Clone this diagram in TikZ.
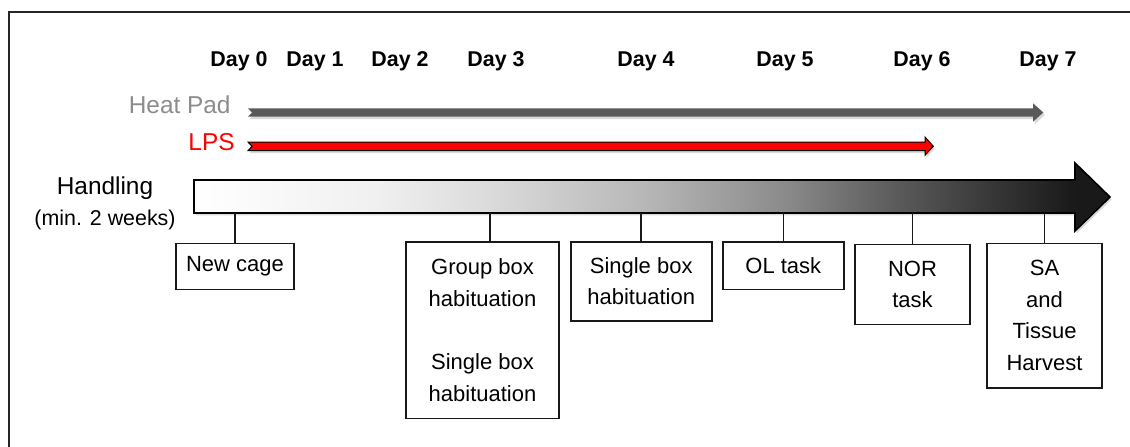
\documentclass[tikz,border=0pt]{standalone}
\usepackage{fontspec}
\setmainfont{Liberation Sans}
\usepackage{tikz}
\usetikzlibrary{shadows}
\usepackage{xcolor}

\definecolor{padgray}{HTML}{595959}
\definecolor{labelgray}{HTML}{8C8C8C}
\definecolor{lpsred}{HTML}{FF0000}

% light on the left, dark towards the arrow tip
\pgfdeclarehorizontalshading{handlingshade}{100bp}{color(0bp)=(white); color(25bp)=(white); color(35bp)=(black!6); color(41bp)=(black!14); color(49.5bp)=(black!28); color(57bp)=(black!45); color(63.5bp)=(black!65); color(73bp)=(black!90); color(100bp)=(black!90)}

\begin{document}
\begin{tikzpicture}[x=0.5pt, y=-0.5pt,
    daylabel/.style={font=\fontsize{10.7}{13}\selectfont\bfseries, anchor=base},
    sidelabel/.style={font=\fontsize{12.2}{14}\selectfont, inner sep=0pt},
    stepbox/.style={draw=black!90, line width=0.8pt, align=center, inner sep=0pt,
        font=\fontsize{11}{15.85}\selectfont},
    tick/.style={draw=black!90, line width=0.8pt},
    arrowshadow/.style={drop shadow={opacity=0.3, shadow xshift=0.8pt, shadow yshift=-1.2pt}}]

        \useasboundingbox (0,0) rectangle (1130,446);
        \clip (0,0) rectangle (1130,446);

        % Frame (only top and left edges show)
        \draw[line width=0.75pt, black!85] (9,12) rectangle (1150,470);

        % Day labels
        \foreach \x/\d in {239/0, 315/1, 400/2, 496/3, 646/4, 785/5, 922/6, 1048/7}
            \node[daylabel] (day\d) at (\x,66.7) {Day \d};

        % Heat Pad bar
        \node[sidelabel, text=labelgray, anchor=base east] (heatlabel) at (231,113.3) {Heat Pad};
        \fill[padgray, arrowshadow] (248,108.3) -- (1033,108.3) -- (1033,103.3) -- (1043.3,112.5)
            -- (1033,121.7) -- (1033,116.7) -- (248,116.7) -- (252,112.5) -- cycle;

        % LPS bar
        \node[sidelabel, text=lpsred, anchor=base east] (lpslabel) at (235,150.7) {LPS};
        \filldraw[fill=lpsred, draw=black, line width=0.5pt, arrowshadow] (248,142) -- (925,142)
            -- (925,137) -- (933.3,146.3) -- (925,155.3) -- (925,150.7) -- (248,150.7)
            -- (252,146.3) -- cycle;

        % Handling arrow
        \node[sidelabel, anchor=base] (handling) at (105,194.3) {Handling};
        \node[font=\fontsize{10.7}{13}\selectfont, anchor=base, inner sep=0pt] (minweeks) at (105,225) {(min. 2 weeks)};
        \path[shading=handlingshade, draw=black, line width=0.8pt, arrowshadow]
            (194,180) -- (1075,180) -- (1075,163) -- (1110,197) -- (1075,231)
            -- (1075,213) -- (194,213) -- cycle;
        \coordinate (hb) at (0,213); % lower edge of the handling bar

        % Step boxes
        \node[stepbox, minimum width=59pt, minimum height=23pt] (newcage) at (235,266.3) {New cage};
        \node[stepbox, minimum width=76.5pt, minimum height=88.3pt] (groupbox) at (482.5,330)
            {Group box\\habituation\\[15.85pt]Single box\\habituation};
        \node[stepbox, minimum width=70.5pt, minimum height=39.5pt] (singlebox) at (641.2,281.2)
            {Single box\\habituation};
        \node[stepbox, minimum width=60.5pt, minimum height=23.8pt] (oltask) at (783.3,265.5) {OL task};
        \node[stepbox, minimum width=57.5pt, minimum height=40pt] (nortask) at (912.5,284.3) {NOR\\task};
        \node[stepbox, minimum width=57.5pt, minimum height=72.2pt] (harvest) at (1044.5,315.5)
            {SA\\and\\Tissue\\Harvest};

        % Ticks from the bar down to the boxes
        \foreach \b in {newcage, singlebox, oltask, nortask, harvest}
            \draw[tick] (\b.north) -- (\b.north |- hb);
        \draw[tick] ([xshift=3.75pt]groupbox.north) -- ([xshift=3.75pt]groupbox.north |- hb);
\end{tikzpicture}
\end{document}
